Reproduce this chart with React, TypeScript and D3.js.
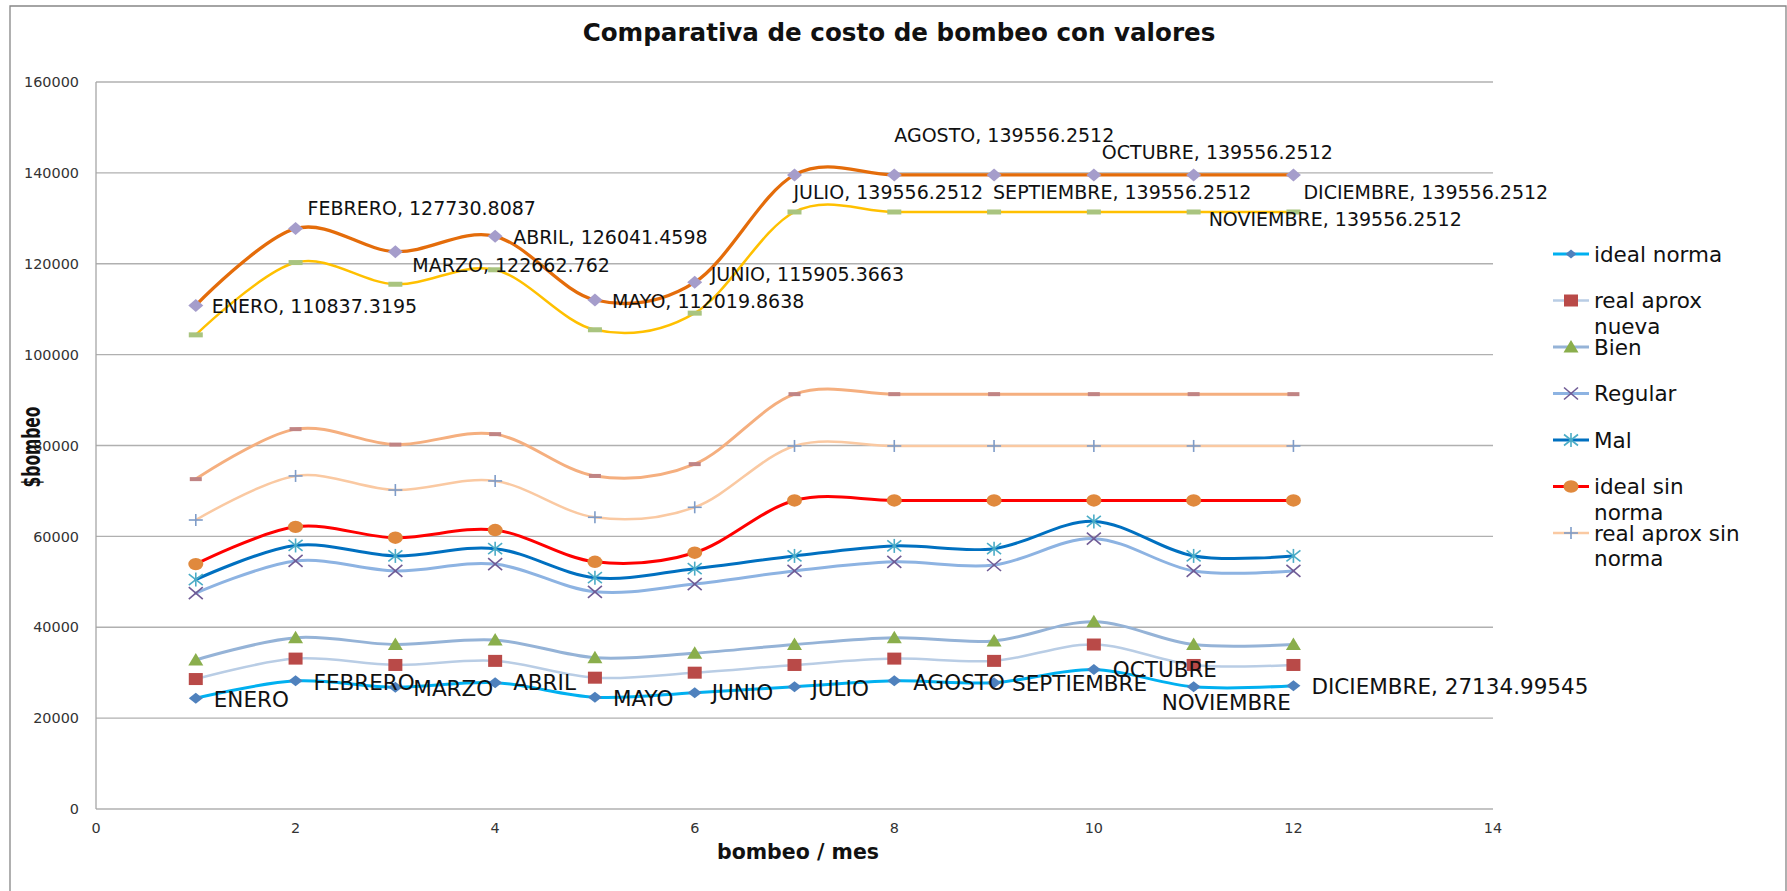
import React from 'react';
import * as d3 from 'd3';

// ---------- data ----------
const months = ['ENERO', 'FEBRERO', 'MARZO', 'ABRIL', 'MAYO', 'JUNIO', 'JULIO', 'AGOSTO', 'SEPTIEMBRE', 'OCTUBRE', 'NOVIEMBRE', 'DICIEMBRE'];
const xValues = [1, 2, 3, 4, 5, 6, 7, 8, 9, 10, 11, 12];
const xTicks = [0, 2, 4, 6, 8, 10, 12, 14];
const yTicks = [0, 20000, 40000, 60000, 80000, 100000, 120000, 140000, 160000];

const idealNorma = [24400, 28200, 26800, 27800, 24600, 25600, 26900, 28200, 27800, 30700, 26900, 27134.99545];
const realAproxNueva = [28600, 33100, 31700, 32600, 28900, 30000, 31700, 33100, 32600, 36200, 31700, 31700];
const bien = [32800, 37700, 36200, 37200, 33300, 34300, 36200, 37700, 37000, 41200, 36200, 36200];
const regular = [47500, 54600, 52400, 53900, 47800, 49500, 52400, 54400, 53700, 59500, 52400, 52400];
const mal = [50500, 58000, 55700, 57300, 50900, 52900, 55700, 57900, 57300, 63300, 55700, 55700];
const idealSinNorma = [53900, 62100, 59700, 61400, 54400, 56400, 67900, 67900, 67900, 67900, 67900, 67900];
const realAproxSinNorma = [63600, 73300, 70200, 72200, 64200, 66400, 79900, 79900, 79900, 79900, 79900, 79900];
const serieRealNueva2 = [72600, 83600, 80200, 82500, 73300, 75900, 91300, 91300, 91300, 91300, 91300, 91300];
const serieRealSin2 = [104350, 120260, 115490, 118670, 105470, 109130, 131390, 131390, 131390, 131390, 131390, 131390];
const serieTotal = [110837.3195, 127730.8087, 122662.762, 126041.4598, 112019.8638, 115905.3663, 139556.2512, 139556.2512, 139556.2512, 139556.2512, 139556.2512, 139556.2512];

const title = 'Comparativa de costo de bombeo con valores';
const xTitle = 'bombeo / mes';
const yTitle = '$bombeo';

// ---------- label placement (px offsets from the point) ----------
const topLabelOffsets = [[16, 1], [12, -20], [17, 14], [18, 1], [17, 1], [16, -8], [-1, 17], [0, -40], [-1, 17], [8, -23], [15, 44], [10, 17]];
const normaLabelOffsets = [[18, 1], [18, 1], [18, 1], [18, 0], [18, 1], [17, 0], [17, 1], [19, 1], [18, 1], [19, 0], [-32, 15], [18, 1]];

type MarkerType = 'diamond' | 'square' | 'triangle' | 'x' | 'star' | 'circle' | 'plus' | 'dash';

interface Series {
  name: string;
  values: number[];
  color: string;
  width: number;
  marker: MarkerType;
  markerColor: string;
  legend: boolean;
  mw?: number;
  mh?: number;
}

const series: Series[] = [
  { name: 'ideal norma', values: idealNorma, color: '#00B0F0', width: 3, marker: 'diamond', markerColor: '#4F81BD', legend: true },
  { name: 'real aprox nueva', values: realAproxNueva, color: '#B9CDE5', width: 2.5, marker: 'square', markerColor: '#B94A48', legend: true },
  { name: 'Bien', values: bien, color: '#95B3D7', width: 3, marker: 'triangle', markerColor: '#8AAE4C', legend: true },
  { name: 'Regular', values: regular, color: '#8DB3E2', width: 3, marker: 'x', markerColor: '#6F5B95', legend: true },
  { name: 'Mal', values: mal, color: '#0070C0', width: 3, marker: 'star', markerColor: '#4BACC6', legend: true },
  { name: 'ideal sin norma', values: idealSinNorma, color: '#FF0000', width: 3, marker: 'circle', markerColor: '#E0893D', legend: true },
  { name: 'real aprox sin norma', values: realAproxSinNorma, color: '#FAC9A2', width: 2.5, marker: 'plus', markerColor: '#7E9CC8', legend: true },
  { name: 'serie 8', values: serieRealNueva2, color: '#F5AF7F', width: 3, marker: 'dash', markerColor: '#C08484', legend: false, mw: 12, mh: 4 },
  { name: 'serie 9', values: serieRealSin2, color: '#FFC000', width: 2.5, marker: 'dash', markerColor: '#A9C47F', legend: false, mw: 14, mh: 5 },
  { name: 'serie 10', values: serieTotal, color: '#E46C0A', width: 3.3, marker: 'diamond', markerColor: '#A59DCB', legend: false, mw: 15, mh: 13 },
];

const legendLabels: string[][] = [
  ['ideal norma'],
  ['real aprox', 'nueva'],
  ['Bien'],
  ['Regular'],
  ['Mal'],
  ['ideal sin', 'norma'],
  ['real aprox sin', 'norma'],
];

const FONT = '"DejaVu Sans", "Liberation Sans", sans-serif';

function Marker({ type, cx, cy, color, w, h }: { type: MarkerType; cx: number; cy: number; color: string; w?: number; h?: number }) {
  switch (type) {
    case 'diamond': {
      const hw = (w ?? 14) / 2, hh = (h ?? 11) / 2;
      return <polygon points={`${cx - hw},${cy} ${cx},${cy - hh} ${cx + hw},${cy} ${cx},${cy + hh}`} fill={color} />;
    }
    case 'square':
      return <rect x={cx - 7} y={cy - 6} width={14} height={12} fill={color} />;
    case 'triangle':
      return <polygon points={`${cx - 7.5},${cy + 5.5} ${cx},${cy - 7} ${cx + 7.5},${cy + 5.5}`} fill={color} />;
    case 'circle':
      return <ellipse cx={cx} cy={cy} rx={7.5} ry={6.2} fill={color} />;
    case 'x':
      return (
        <g stroke={color} strokeWidth={1.6}>
          <line x1={cx - 7} y1={cy - 6} x2={cx + 7} y2={cy + 6} />
          <line x1={cx - 7} y1={cy + 6} x2={cx + 7} y2={cy - 6} />
        </g>
      );
    case 'star':
      return (
        <g stroke={color} strokeWidth={1.6}>
          <line x1={cx - 7} y1={cy - 5.5} x2={cx + 7} y2={cy + 5.5} />
          <line x1={cx - 7} y1={cy + 5.5} x2={cx + 7} y2={cy - 5.5} />
          <line x1={cx} y1={cy - 7} x2={cx} y2={cy + 7} />
        </g>
      );
    case 'plus':
      return (
        <g stroke={color} strokeWidth={1.6}>
          <line x1={cx - 7} y1={cy} x2={cx + 7} y2={cy} />
          <line x1={cx} y1={cy - 6} x2={cx} y2={cy + 6} />
        </g>
      );
    case 'dash': {
      const mw = w ?? 12, mh = h ?? 4;
      return <rect x={cx - mw / 2} y={cy - mh / 2} width={mw} height={mh} fill={color} />;
    }
  }
  return null;
}

export default function App() {
  const W = 1787, H = 891;
  const x = d3.scaleLinear().domain([0, 14]).range([96, 1493]);
  const y = d3.scaleLinear().domain([0, 160000]).range([809, 82]);
  const line = d3
    .line<number>()
    .x((_, i) => x(xValues[i]))
    .y((d) => y(d))
    .curve(d3.curveCardinal.tension(0));

  const drawOrder = series;
  const legendSeries = series.filter((s) => s.legend);

  return (
    <svg width={W} height={H} style={{ position: 'absolute', left: 0, top: 0, background: '#fff' }} fontFamily={FONT}>
      <rect x={0} y={0} width={W} height={H} fill="#fff" />
      {/* chart frame */}
      <path d={`M10,${H + 5} L10,6 L1786,6 L1786,${H + 5}`} fill="none" stroke="#868686" strokeWidth={1.3} />

      {/* title */}
      <text x={899} y={32} dy="0.36em" textAnchor="middle" fontWeight="bold" fontSize={24.6} fill="#111">
        {title}
      </text>

      {/* gridlines */}
      {yTicks.map((t) => (
        <line key={t} x1={x(0)} x2={x(14)} y1={y(t)} y2={y(t)} stroke="#B0B0B0" strokeWidth={1.3} />
      ))}
      <line x1={x(0)} x2={x(0)} y1={y(0)} y2={y(160000)} stroke="#A6A6A6" strokeWidth={1.3} />

      {/* y tick labels */}
      {yTicks.map((t) => (
        <text key={t} x={79} y={y(t)} dy="0.36em" textAnchor="end" fontSize={14.4} fill="#333">
          {t}
        </text>
      ))}
      {/* x tick labels */}
      {xTicks.map((t) => (
        <text key={t} x={x(t)} y={828} dy="0.36em" textAnchor="middle" fontSize={14.4} fill="#333">
          {t}
        </text>
      ))}

      {/* axis titles */}
      <text x={798} y={852} dy="0.36em" textAnchor="middle" fontWeight="bold" fontSize={20.5} fill="#111">
        {xTitle}
      </text>
      <g transform="translate(31,447) scale(1.55,1) rotate(-90)">
        <text x={0} y={0} dy="0.36em" textAnchor="middle" fontWeight="bold" fontSize={15.5} fill="#111">
          {yTitle}
        </text>
      </g>

      {/* series lines */}
      {drawOrder.map((s) => (
        <path key={s.name} d={line(s.values) ?? ''} fill="none" stroke={s.color} strokeWidth={s.width} strokeLinejoin="round" strokeLinecap="round" />
      ))}
      {/* markers */}
      {drawOrder.map((s) => (
        <g key={s.name + '-m'}>
          {s.values.map((v, i) => (
            <Marker key={i} type={s.marker} cx={x(xValues[i])} cy={y(v)} color={s.markerColor} w={s.mw} h={s.mh} />
          ))}
        </g>
      ))}

      {/* data labels: top series */}
      {serieTotal.map((v, i) => (
        <text key={'tl' + i} x={x(xValues[i]) + topLabelOffsets[i][0]} y={y(v) + topLabelOffsets[i][1]} dy="0.36em" fontSize={19} fill="#111">
          {`${months[i]}, ${v}`}
        </text>
      ))}
      {/* data labels: ideal norma */}
      {idealNorma.map((v, i) => (
        <text key={'nl' + i} x={x(xValues[i]) + normaLabelOffsets[i][0]} y={y(v) + normaLabelOffsets[i][1]} dy="0.36em" fontSize={21.5} fill="#111">
          {i === idealNorma.length - 1 ? `${months[i]}, ${v}` : months[i]}
        </text>
      ))}

      {/* legend */}
      {legendSeries.map((s, i) => {
        const ly = 254 + i * 46.5;
        return (
          <g key={'lg' + s.name}>
            <line x1={1553} x2={1589} y1={ly} y2={ly} stroke={s.color} strokeWidth={s.width} />
            <Marker type={s.marker} cx={1571} cy={ly} color={s.markerColor} w={s.marker === 'diamond' ? 11 : undefined} h={s.marker === 'diamond' ? 9 : undefined} />
            {legendLabels[i].map((t, j) => (
              <text key={j} x={1594} y={ly + j * 25.5} dy="0.36em" fontSize={21.5} fill="#111">
                {t}
              </text>
            ))}
          </g>
        );
      })}
    </svg>
  );
}
